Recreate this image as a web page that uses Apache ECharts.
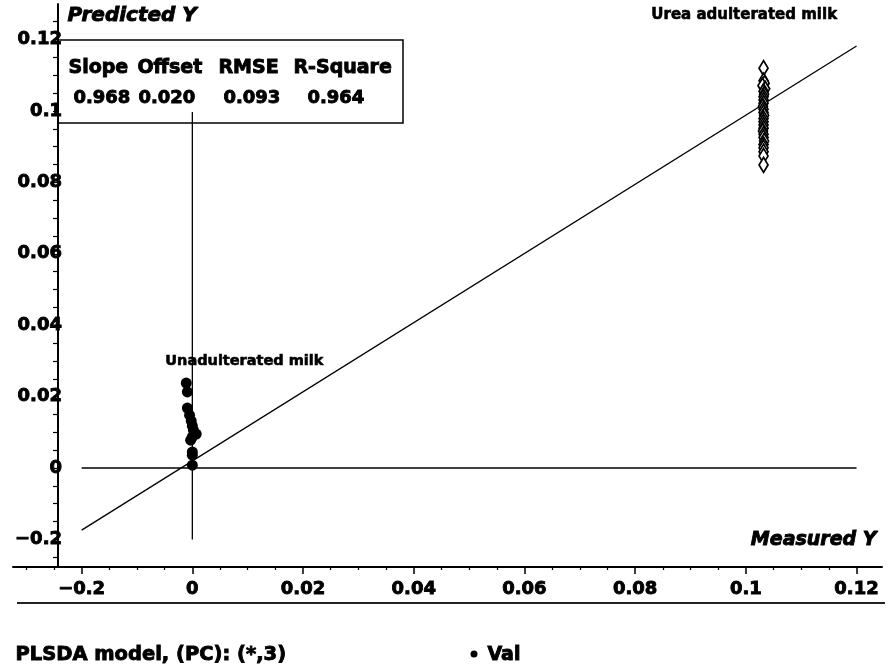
<!DOCTYPE html>
<html>
<head>
<meta charset="utf-8">
<script src="https://cdn.jsdelivr.net/npm/echarts@6.0.0/dist/echarts.min.js"></script>
<style>
  html, body { margin: 0; padding: 0; background: #fff; }
  #chart { width: 893px; height: 669px; }
</style>
</head>
<body>
<div id="chart"></div>
<script>
// Major tick values (shared by both axes) and the text printed at each
const TICK_VALUES = [-0.02, 0, 0.02, 0.04, 0.06, 0.08, 0.1, 0.12];
const TICK_LABELS = ['\u22120.2', '0', '0.02', '0.04', '0.06', '0.08', '0.1', '0.12'];

// Unadulterated milk samples: [measured, predicted]
const UNADULTERATED = [
  [-0.0011, 0.0238], [-0.0009, 0.0213], [-0.0009, 0.0168], [-0.0005, 0.0148],
  [-0.0002, 0.0132], [0.0000, 0.0118], [0.0002, 0.0106], [0.0007, 0.0095],
  [0.0000, 0.0087], [-0.0003, 0.0078], [0.0000, 0.0045], [0.0000, 0.0036],
  [0.0000, 0.0008]
];

// Urea adulterated milk samples: [measured, predicted]
const UREA = [
  [0.1032, 0.1120], [0.1032, 0.1085], [0.1034, 0.1078], [0.1030, 0.1071],
  [0.1035, 0.1062], [0.1032, 0.1055], [0.1033, 0.1047], [0.1032, 0.1040],
  [0.1032, 0.1031], [0.1032, 0.1022], [0.1031, 0.1013], [0.1032, 0.1005],
  [0.1032, 0.0996], [0.1033, 0.0988], [0.1032, 0.0979], [0.1032, 0.0970],
  [0.1032, 0.0961], [0.1032, 0.0952], [0.1031, 0.0944], [0.1032, 0.0935],
  [0.1032, 0.0926], [0.1033, 0.0916], [0.1032, 0.0906], [0.1032, 0.0897],
  [0.1032, 0.0886], [0.1032, 0.0874], [0.1032, 0.0849]
];

// Fitted regression line end points
const FIT_LINE = [[-0.02, -0.0174], [0.12, 0.1182]];
// Zero reference lines
const ZERO_H = [[-0.02, 0], [0.12, 0]];
const ZERO_V = [[0, -0.02], [0, 0.0997]];

// Fit statistics table
const STAT_NAMES = ['Slope', 'Offset', 'RMSE', 'R-Square'];
const STAT_VALUES = ['0.968', '0.020', '0.093', '0.964'];

// Axis extents
const XMIN = -0.0324, XMAX = 0.1246;
const YMIN = -0.02773, YMAX = 0.12885;

function minorTicks(from, to) {
  const out = [];
  for (let k = Math.round(from / 0.005); k <= Math.round(to / 0.005); k++) {
    if (k % 4 !== 0) out.push(+(k * 0.005).toFixed(4));
  }
  return out;
}
const MINOR_X = minorTicks(-0.03, 0.12);
const MINOR_Y = minorTicks(-0.025, 0.125);

function tickText(v) {
  const i = TICK_VALUES.findIndex(t => Math.abs(t - v) < 1e-9);
  return i < 0 ? '' : TICK_LABELS[i];
}

const FONT = 'DejaVu Sans';
const INK = '#000';

// heavy text: bold face plus a thin outline of the same colour
function heavy(text, font, extra) {
  return Object.assign({ text: text, fill: INK, font: font, stroke: INK, lineWidth: 0.9 }, extra || {});
}

const baseX = {
  type: 'value', min: XMIN, max: XMAX, position: 'bottom',
  splitLine: { show: false }
};
const baseY = {
  type: 'value', min: YMIN, max: YMIN + (YMAX - YMIN) * 563 / 559,
  position: 'left', offset: -45,
  splitLine: { show: false }
};
const tickLabelStyle = {
  color: INK, fontFamily: FONT, fontWeight: 'bold', fontSize: 18,
  textBorderColor: INK, textBorderWidth: 0.9
};

const chart = echarts.init(document.getElementById('chart'), null, { renderer: 'canvas' });

const statHeaderX = [68, 137, 218, 293];
const statValueX = [73, 138, 223, 307];

const graphics = [
  // statistics box
  { type: 'polyline', shape: { points: [[58, 40], [403, 40], [403, 123], [58, 123]] },
    style: { stroke: INK, lineWidth: 1.5, fill: null }, z: 10 },
  // separator under the x axis
  { type: 'line', shape: { x1: 17, y1: 603, x2: 885, y2: 603 },
    style: { stroke: '#222', lineWidth: 2 } },
  { type: 'text', left: 67, top: 5,
    style: heavy('Predicted Y', 'italic bold 20px "DejaVu Sans"') },
  { type: 'text', right: 16, top: 530,
    style: heavy('Measured Y', 'italic bold 19px "DejaVu Sans"') },
  { type: 'text', left: 651, top: 7,
    style: heavy('Urea adulterated milk', 'bold 15px "DejaVu Sans"', { lineWidth: 0.6 }) },
  { type: 'text', left: 165, top: 353,
    style: heavy('Unadulterated milk', 'bold 14.5px "DejaVu Sans"', { lineWidth: 0.6 }) },
  { type: 'text', left: 15, top: 644,
    style: heavy('PLSDA model, (PC): (*,3)', 'bold 19.5px "DejaVu Sans"') },
  { type: 'circle', shape: { cx: 474, cy: 654, r: 3.5 }, style: { fill: INK } },
  { type: 'text', left: 487, top: 645,
    style: heavy('Val', 'bold 19px "DejaVu Sans"') }
];
STAT_NAMES.forEach((s, i) => graphics.push({
  type: 'text', left: statHeaderX[i], top: 58,
  style: heavy(s, 'bold 19px "DejaVu Sans"')
}));
STAT_VALUES.forEach((s, i) => graphics.push({
  type: 'text', left: statValueX[i], top: 89,
  style: heavy(s, 'bold 18px "DejaVu Sans"')
}));

chart.setOption({
  animation: false,
  backgroundColor: '#fff',
  grid: { left: 13, right: 11, top: 4, bottom: 102 },
  xAxis: [
    Object.assign({}, baseX, {
      axisLine: { onZero: false, lineStyle: { color: INK, width: 2 } },
      axisTick: { show: true, customValues: TICK_VALUES, length: 7, lineStyle: { color: INK, width: 1.5 } },
      axisLabel: Object.assign({ customValues: TICK_VALUES, formatter: tickText, margin: 13 }, tickLabelStyle)
    }),
    Object.assign({}, baseX, {
      axisLine: { show: false, onZero: false },
      axisTick: { show: true, customValues: MINOR_X, length: 3, lineStyle: { color: INK, width: 1.2 } },
      axisLabel: { show: false }
    })
  ],
  yAxis: [
    Object.assign({}, baseY, {
      axisLine: { show: true, onZero: false, lineStyle: { color: INK, width: 2 } },
      axisTick: { show: true, customValues: TICK_VALUES, length: 5, lineStyle: { color: INK, width: 1.2 } },
      axisLabel: Object.assign({ customValues: TICK_VALUES, formatter: tickText, margin: -4 }, tickLabelStyle)
    }),
    Object.assign({}, baseY, {
      axisLine: { show: false, onZero: false },
      axisTick: { show: true, customValues: MINOR_Y, length: 5, lineStyle: { color: INK, width: 1.2 } },
      axisLabel: { show: false }
    })
  ],
  series: [
    { type: 'line', data: ZERO_H, symbol: 'none', lineStyle: { color: INK, width: 1.3 }, silent: true },
    { type: 'line', data: ZERO_V, symbol: 'none', lineStyle: { color: INK, width: 1.3 }, silent: true },
    { type: 'line', data: FIT_LINE, symbol: 'none', lineStyle: { color: INK, width: 1.3 }, silent: true },
    { type: 'scatter', name: 'Unadulterated milk', data: UNADULTERATED, symbol: 'circle', symbolSize: 11,
      itemStyle: { color: INK, opacity: 1 }, z: 5 },
    { type: 'scatter', name: 'Urea adulterated milk', data: UREA, symbol: 'diamond', symbolSize: [9, 15],
      itemStyle: { color: '#fff', borderColor: INK, borderWidth: 1.8, opacity: 1 }, z: 5 }
  ],
  graphic: graphics
});
</script>
</body>
</html>
